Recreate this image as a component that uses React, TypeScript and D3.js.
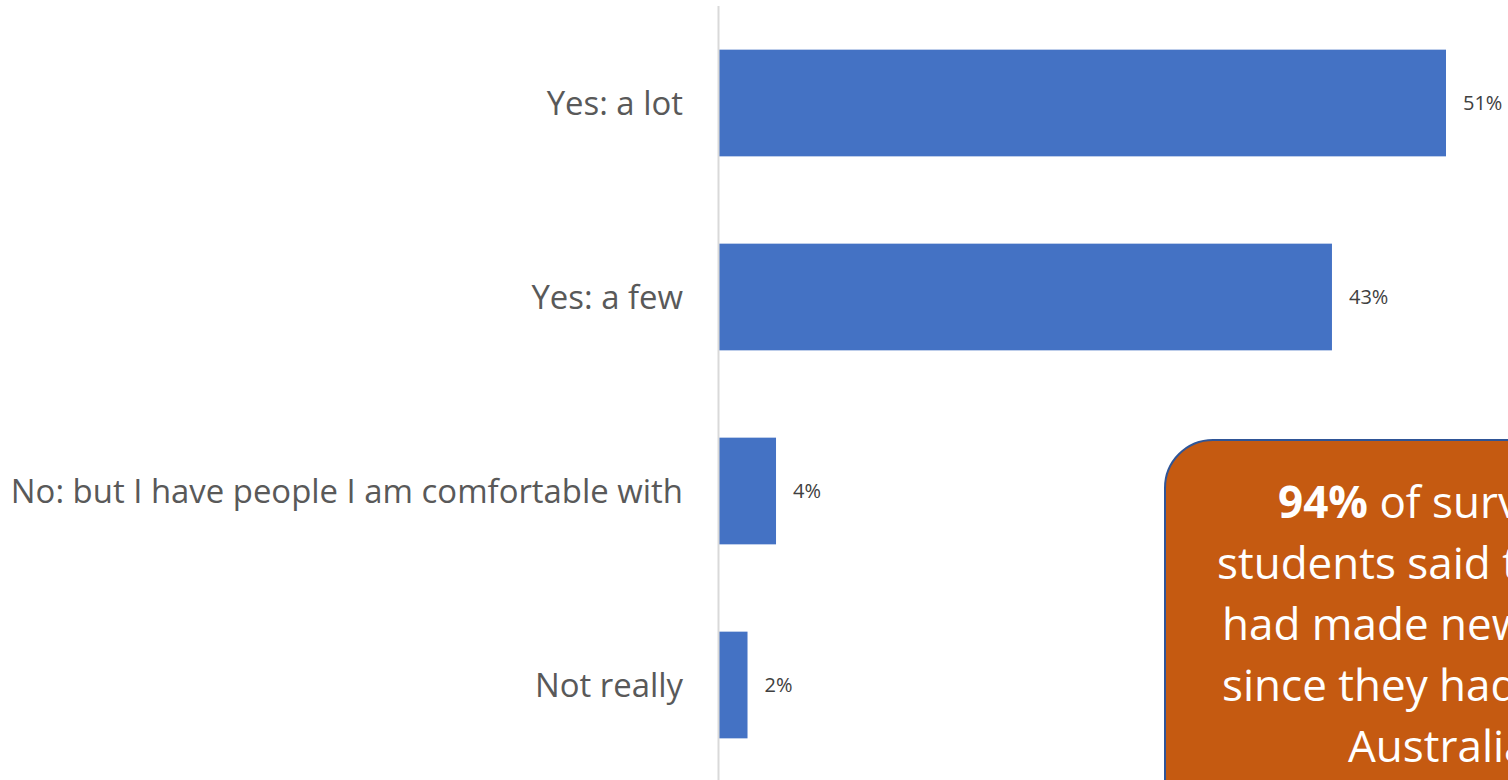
import React from "react";
import * as d3 from "d3";

const categories = ["Yes: a lot", "Yes: a few", "No: but I have people I am comfortable with", "Not really"];
const values = [51, 43, 4, 2];
const valueLabels = ["51%", "43%", "4%", "2%"];
const calloutLines = [
  [{ t: "94%", b: true }, { t: " of surveyed", b: false }],
  [{ t: "students said they", b: false }],
  [{ t: "had made new friends", b: false }],
  [{ t: "since they had come to", b: false }],
  [{ t: "Australia", b: false }],
];
const calloutStarts = [1278, 1217, 1222, 1222, 1348];

const W = 1508;
const H = 780;
const FONT = "'Open Sans', 'Noto Sans', sans-serif";

export default function App() {
  const axisX = 718.5;
  const x = d3.scaleLinear().domain([0, 51]).range([axisX + 0.5, 1446]);
  const y = d3.scaleBand().domain(categories).range([6, 782]).paddingInner(0.45).paddingOuter(0.225);

  const boxX = 1165;
  const boxY = 440;
  const boxW = 520;
  const boxH = 420;

  return (
    <div style={{ position: "absolute", left: 0, top: 0, width: W, height: H, overflow: "hidden" }}>
      <svg width={W} height={H} style={{ display: "block" }}>
        <rect x={0} y={0} width={W} height={H} fill="#ffffff" />
        {categories.map((c, i) => (
          <g key={c}>
            <rect x={x(0)} y={y(c)} width={x(values[i]) - x(0)} height={y.bandwidth()} fill="#4472C4" />
            <text
              x={x(values[i]) + 17}
              y={(y(c) as number) + y.bandwidth() / 2}
              dy="0.35em"
              fontFamily={FONT}
              fontSize={20}
              fill="#404040"
            >
              {valueLabels[i]}
            </text>
            <text
              x={683}
              y={(y(c) as number) + y.bandwidth() / 2}
              dy="0.35em"
              textAnchor="end"
              fontFamily={FONT}
              fontSize={32.9}
              fill="#595959"
            >
              {c}
            </text>
          </g>
        ))}
        <line x1={axisX} x2={axisX} y1={6} y2={H} stroke="#d9d9d9" strokeWidth={2} />
        <rect x={boxX} y={boxY} width={boxW} height={boxH} rx={48} ry={48} fill="#C55A11" stroke="#2F5597" strokeWidth={2} />
        {calloutLines.map((line, i) => (
          <text key={i} x={calloutStarts[i]} y={518 + i * 61} fontFamily={FONT} fontSize={44} fill="#ffffff">
            {line.map((s, j) => (
              <tspan key={j} fontWeight={s.b ? 700 : 400}>{s.t}</tspan>
            ))}
          </text>
        ))}
      </svg>
    </div>
  );
}
